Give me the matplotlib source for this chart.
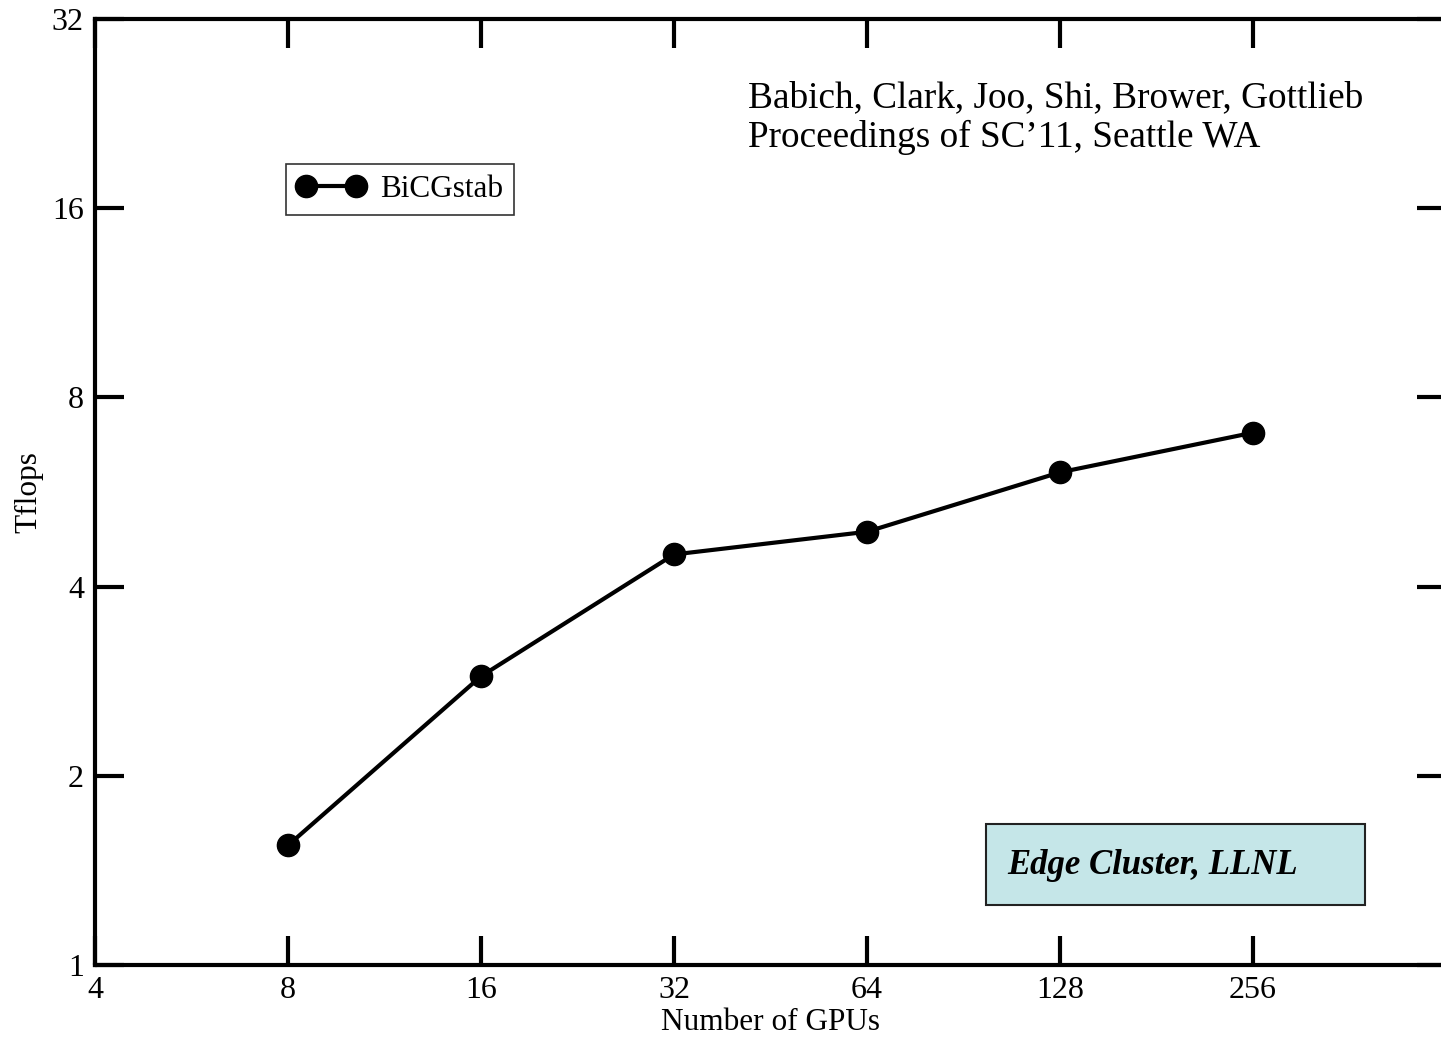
import matplotlib.pyplot as plt
from matplotlib.patches import Rectangle
from matplotlib.ticker import FixedLocator, NullLocator

plt.rcParams['font.family'] = ['Liberation Serif', 'DejaVu Serif']

# values
gpus = [8, 16, 32, 64, 128, 256]
tflops = [1.55, 2.88, 4.50, 4.89, 6.08, 7.03]
x_ticks = [4, 8, 16, 32, 64, 128, 256]
y_ticks = [1, 2, 4, 8, 16, 32]

fig = plt.figure(figsize=(14.41, 10.38), dpi=100)
ax = fig.add_axes([95 / 1441, 1 - 965 / 1038, 1351 / 1441, (965 - 19) / 1038])

ax.plot(gpus, tflops, color='black', lw=3, marker='o', ms=16, label='BiCGstab')

ax.set_xscale('log', base=2)
ax.set_yscale('log', base=2)
ax.set_xlim(4, 512)
ax.set_ylim(1, 32)
ax.xaxis.set_major_locator(FixedLocator(x_ticks))
ax.yaxis.set_major_locator(FixedLocator(y_ticks))
ax.xaxis.set_minor_locator(NullLocator())
ax.yaxis.set_minor_locator(NullLocator())
ax.set_xticklabels([str(v) for v in x_ticks])
ax.set_yticklabels([str(v) for v in y_ticks])
ax.tick_params(direction='in', length=21, width=3, labelsize=23, top=True, right=True, pad=8)
for s in ax.spines.values():
    s.set_linewidth(3)

ax.set_xlabel('Number of GPUs', fontsize=22.5, labelpad=2)
ax.set_ylabel('Tflops', fontsize=22.5, labelpad=6)

leg = ax.legend(loc='upper left', bbox_to_anchor=(191 / 1351, 1 - 145 / 946), fontsize=22.5,
                frameon=True, fancybox=False, edgecolor='black', handlelength=2.2, numpoints=2,
                borderpad=0.35, handletextpad=0.45, borderaxespad=0)
leg.get_frame().set_linewidth(1.2)

ax.text(748 / 1441, 1 - 118 / 1038, "Babich, Clark, Joo, Shi, Brower, Gottlieb\nProceedings of SC\u201911, Seattle WA",
        transform=fig.transFigure, fontsize=26.8, va='center', ha='left', linespacing=1.15)

box = Rectangle((986 / 1441, 1 - 905 / 1038), 379 / 1441, 81 / 1038, transform=fig.transFigure,
                facecolor='#c5e6e8', edgecolor='#222222', lw=1.5)
fig.patches.append(box)
fig.text(1007 / 1441, 1 - 866 / 1038, 'Edge Cluster, LLNL', fontsize=25, fontweight='bold',
         fontstyle='italic', va='center', ha='left')

fig.savefig('out.png', dpi=100)
